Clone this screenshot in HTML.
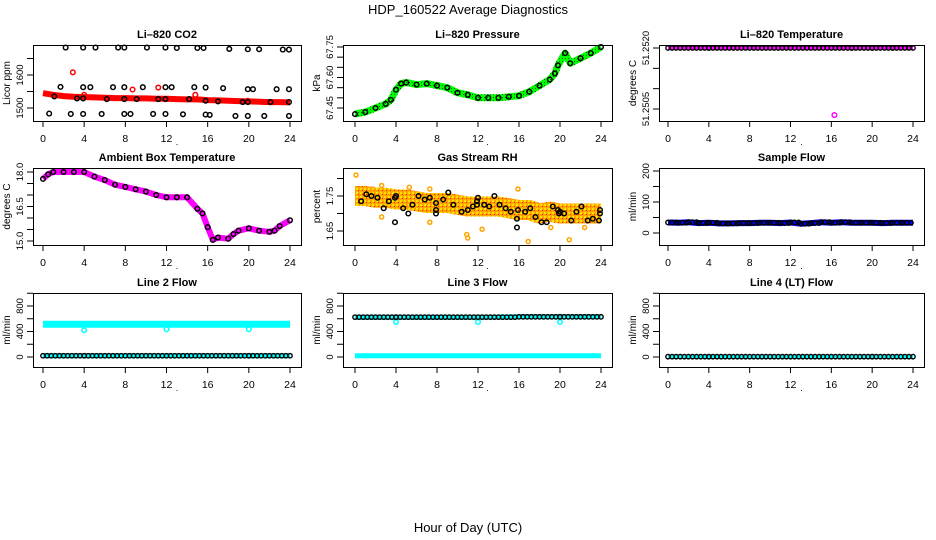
<!DOCTYPE html>
<html><head><meta charset="utf-8"><title>HDP_160522 Average Diagnostics</title>
<style>
html,body{margin:0;padding:0;background:#fff;}
svg{display:block;font-family:"Liberation Sans",sans-serif;}
</style></head>
<body>
<svg id="fig" width="936" height="540" viewBox="0 0 936 540" xmlns="http://www.w3.org/2000/svg">
<defs>
<pattern id="rhpat" width="4" height="4" patternUnits="userSpaceOnUse">
<rect width="4" height="4" fill="#ffa500"/><rect x="0" y="0" width="2" height="2" fill="#ffe000"/><rect x="2" y="2" width="1" height="1" fill="#ff2000"/>
</pattern>
<pattern id="grpat" width="3" height="3" patternUnits="userSpaceOnUse">
<rect width="3" height="3" fill="#00ff00"/><rect x="1" y="1" width="1" height="1" fill="#006000"/>
</pattern>
</defs>
<text x="468" y="14" font-size="13" text-anchor="middle">HDP_160522  Average Diagnostics</text>
<text x="468" y="532" font-size="13" text-anchor="middle">Hour of Day (UTC)</text>
</svg>
<script>
// ---- shared x categories ----
const xTicks = [0, 4, 8, 12, 16, 20, 24];

// ---- Li-820 CO2 ----
const co2BandHours = [0,1,2,3,4,5,6,7,8,9,10,11,12,13,14,15,16,17,18,19,20,21,22,23,24];
const co2Band = [1545,1540,1536,1534,1533,1532,1531,1530,1530,1529,1529,1528,1528,1527,1526,1526,1524,1523,1522,1521,1520,1519,1518,1518,1517];
const co2CircHours = [2.2,3.9,5.1,7.3,7.9,10.1,11.9,13.0,15.0,15.6,18.1,19.9,21.0,23.3,23.9, 1.7,3.9,4.6,6.8,7.9,9.7,11.9,12.5,14.7,15.8,17.5,19.9,20.4,22.7,23.9, 0.6,2.7,3.9,5.7,7.9,8.5,10.7,11.9,13.6,15.8,16.2,18.7,19.9,21.5,23.9, 1.1,3.3,3.9,6.2,7.9,9.1,11.2,11.9,14.2,15.8,17.0,19.4,19.9,22.1,23.9];
const co2CircVals = [1683,1683,1683,1683,1683,1683,1683,1682,1682,1682,1679,1678,1678,1677,1677, 1564,1563,1563,1563,1563,1563,1563,1563,1563,1562,1560,1557,1557,1557,1557, 1483,1482,1482,1482,1482,1482,1482,1482,1481,1480,1479,1476,1476,1476,1476, 1535,1529,1529,1527,1527,1527,1527,1527,1527,1522,1520,1518,1518,1518,1518];
const co2RedHours = [2.9,4.0,8.7,11.2,14.8,19.9];
const co2RedVals = [1608,1540,1556,1562,1540,1522];

// ---- Li-820 Pressure ----
const presHours = [0,1,2,3,3.5,4,4.5,5,6,7,8,9,10,11,12,13,14,15,16,17,18,19,19.5,19.8,20.5,21,22,23,24];
const presVals = [67.42,67.43,67.45,67.47,67.49,67.54,67.57,67.575,67.565,67.57,67.56,67.55,67.525,67.515,67.50,67.50,67.50,67.505,67.51,67.53,67.56,67.59,67.62,67.66,67.72,67.67,67.695,67.72,67.75];

// ---- Li-820 Temperature ----
const tempHours = [0,2,4,6,8,10,12,14,16,18,20,22,24];
const tempVals = [51.2520,51.2520,51.2520,51.2520,51.2520,51.2520,51.2520,51.2520,51.2520,51.2520,51.2520,51.2520,51.2520];
const tempOutHours = [16.3];
const tempOutVals = [51.25035];

// ---- Ambient Box Temperature ----
const ambHours = [0,0.5,1,2,3,4,5,6,7,8,9,10,11,12,13,14,15,15.5,16,16.5,17,18,18.5,19,20,21,22,22.5,23,24];
const ambVals = [17.7,17.9,18.0,18.0,18.0,18.0,17.8,17.65,17.45,17.35,17.25,17.15,17.0,16.9,16.9,16.9,16.4,16.2,15.6,15.05,15.15,15.1,15.3,15.45,15.55,15.45,15.4,15.45,15.65,15.9];

// ---- Gas Stream RH ----
const rhHours = [0,1,2,3,4,5,6,7,8,9,10,11,12,13,14,15,16,17,18,19,20,21,22,23,24];
const rhBand = [1.75,1.75,1.745,1.745,1.74,1.74,1.735,1.73,1.73,1.73,1.725,1.72,1.72,1.72,1.72,1.715,1.71,1.71,1.70,1.705,1.70,1.70,1.70,1.70,1.70];
const rhCircHours = [0.6,1.1,1.6,2.2,2.8,3.3,3.9,4.0,3.9,4.7,5.2,5.6,6.2,6.8,7.3,7.9,7.9,7.9,8.6,9.1,9.6,10.4,11.0,11.5,11.9,11.9,12.0,12.6,13.1,13.6,14.1,14.7,15.2,15.8,15.8,15.9,16.6,17.1,17.6,18.2,18.7,19.3,19.8,19.9,20.0,20.4,21.1,21.6,22.1,22.7,23.2,23.8,23.9,23.9];
const rhCircVals = [1.735,1.755,1.75,1.745,1.715,1.735,1.745,1.75,1.675,1.715,1.70,1.725,1.75,1.74,1.745,1.73,1.71,1.70,1.74,1.76,1.725,1.705,1.71,1.72,1.735,1.725,1.745,1.725,1.72,1.75,1.725,1.715,1.705,1.685,1.66,1.71,1.705,1.715,1.69,1.675,1.675,1.72,1.71,1.70,1.705,1.70,1.68,1.705,1.72,1.68,1.685,1.68,1.70,1.71];
const rhOutHours = [0.1,1.7,2.6,5.3,7.3,2.6,7.3,10.9,11.0,12.4,15.9,16.9,20.9,22.4,19.1];
const rhOutVals = [1.81,1.77,1.78,1.775,1.77,1.69,1.675,1.64,1.63,1.655,1.77,1.62,1.625,1.66,1.66];

// ---- Sample Flow ----
const sfHours = [0,1,2,3,4,5,6,7,8,9,10,11,12,13,14,15,16,17,18,19,20,21,22,23,24];
const sfVals = [34,33,35,32,33,31,31,32,32,33,33,32,34,30,32,35,33,35,33,33,33,32,33,33,33];

// ---- Line 2 Flow ----
const l2Hours = [0,4,8,12,16,20,24];
const l2High = [515,515,515,515,515,515,515];
const l2Low = [20,20,20,20,20,20,20];
const l2OutHours = [4,12,20];
const l2OutVals = [420,435,435];

// ---- Line 3 Flow ----
const l3Hours = [0,4,8,12,16,20,24];
const l3High = [625,625,625,625,630,630,630];
const l3Low = [20,20,20,20,20,20,20];
const l3OutHours = [4,12,20];
const l3OutVals = [550,550,550];

// ---- Line 4 (LT) Flow ----
const l4Hours = [0,4,8,12,16,20,24];
const l4Vals = [5,5,5,5,5,5,5];

const NS = 'http://www.w3.org/2000/svg';
const svg = document.getElementById('fig');
const cols = [{bx0:33,bx1:301,h0:43,h24:290},{bx0:343,bx1:612,h0:355,h24:601},{bx0:659,bx1:924,h0:668,h24:913}];
const rows = [{by0:45,by1:121},{by0:168,by1:245},{by0:293,by1:367}];

function mk(tag, attrs, parent){
  const e = document.createElementNS(NS, tag);
  for (const k in attrs) e.setAttribute(k, attrs[k]);
  (parent || svg).appendChild(e);
  return e;
}
function makePanel(ci, ri, title, ylab, v1, p1, v2, p2, yTicks, yLabels, name){
  const c = cols[ci], r = rows[ri];
  const g = mk('g', {});
  
  
  const xs = h => c.h0 + (h / 24) * (c.h24 - c.h0);
  const ys = v => p1 + (v - v1) * (p2 - p1) / (v2 - v1);
  const t = mk('text', {x:(c.bx0 + c.bx1)/2, y:r.by0 - 7, 'font-size':11, 'font-weight':'bold', 'text-anchor':'middle'}, g);
  t.textContent = title;
  
  
  const yl = mk('text', {transform:`translate(${c.bx0 - 23},${(r.by0 + r.by1)/2}) rotate(-90)`, 'font-size':10, 'text-anchor':'middle'}, g);
  yl.textContent = ylab;
  
  
  const ax = mk('g', {stroke:'#000', 'stroke-width':1}, g);
  
  
  mk('line', {x1:xs(0), x2:xs(24), y1:r.by1 + 0.5, y2:r.by1 + 0.5}, ax);
  xTicks.forEach(h => {
    mk('line', {x1:xs(h), x2:xs(h), y1:r.by1, y2:r.by1 + 6}, ax);
    const lt = mk('text', {x:xs(h), y:r.by1 + 21, 'font-size':10.5, 'text-anchor':'middle', stroke:'none'}, ax);
    lt.textContent = h;
    
    
  });
  const dot = mk('text', {x:(c.bx0 + c.bx1)/2 + 10, y:r.by1 + 24, 'font-size':9, 'text-anchor':'middle', stroke:'none'}, ax);
  dot.textContent = '.';
  const ay = mk('g', {stroke:'#000', 'stroke-width':1}, g);
  
  
  yTicks.forEach((v, i) => {
    const y = ys(v);
    mk('line', {x1:c.bx0 - 6, x2:c.bx0, y1:y, y2:y}, ay);
    if (yLabels[i] !== '') {
      const lt = mk('text', {transform:`translate(${c.bx0 - 10},${y}) rotate(-90)`, 'font-size':9.5, 'text-anchor':'middle', stroke:'none'}, ay);
      lt.textContent = yLabels[i];
      
      
    }
  });
  const plot = mk('g', {}, g);
  
  
  const box = mk('rect', {x:c.bx0 + 0.5, y:r.by0 + 0.5, width:c.bx1 - c.bx0, height:r.by1 - r.by0, fill:'none', stroke:'#000', 'stroke-width':1}, g);
  
  
  return {xs, ys, plot};
}
function band(P, hours, vals, color, width, name){
  const pts = hours.map((h, i) => P.xs(h).toFixed(1) + ',' + P.ys(vals[i]).toFixed(1)).join(' ');
  const pl = mk('polyline', {points:pts, fill:'none', stroke:color, 'stroke-width':width, 'stroke-linejoin':'round', 'stroke-linecap':'butt'}, P.plot);
  
  
}
function circles(P, hours, vals, color, name, r){
  hours.forEach((h, i) => {
    const cc = mk('circle', {cx:P.xs(h), cy:P.ys(vals[i]), r:r || 2.3, fill:'none', stroke:color, 'stroke-width':1.5}, P.plot);
    
    
  });
}
// dense circle rows along flat series (positions from hours array, values from data)
function circleRow(P, hours, vals, color, name, step){
  for (let i = 0; i < hours.length - 1; i++) {
    for (let h = hours[i]; h < hours[i+1]; h += step) {
      const cc = mk('circle', {cx:P.xs(h), cy:P.ys(vals[i]), r:2.2, fill:'none', stroke:color, 'stroke-width':1.4}, P.plot);
      
      
    }
  }
}

// CO2
let P = makePanel(0, 0, 'Li\u2013820 CO2', 'Licor ppm', 1600, 75, 1500, 108, [1500,1550,1600,1650], ['1500','','1600',''], 'co2');
band(P, co2BandHours, co2Band, '#ff0000', 6, 'co2-band');
circles(P, co2RedHours, co2RedVals, '#ff0000', 'co2-red-point');
circles(P, co2CircHours, co2CircVals, '#000', 'co2-avg-point');

// Pressure
P = makePanel(1, 0, 'Li\u2013820 Pressure', 'kPa', 67.45, 108, 67.75, 47, [67.45,67.50,67.55,67.60,67.65,67.70,67.75], ['67.45','','','67.60','','','67.75'], 'pressure');
band(P, presHours, presVals, 'url(#grpat)', 7, 'pressure-band');
circles(P, presHours, presVals, '#000', 'pressure-avg-point');

// Temperature
P = makePanel(2, 0, 'Li\u2013820 Temperature', 'degrees C', 51.2520, 48, 51.2505, 109, [51.2505,51.2510,51.2515,51.2520], ['51.2505','','','51.2520'], 'li820-temp');
band(P, tempHours, tempVals, '#ff00ff', 4, 'li820-temp-band');
circleRow(P, tempHours, tempVals, '#000', 'li820-temp-avg-point', 0.4);
circles(P, tempOutHours, tempOutVals, '#ff00ff', 'li820-temp-outlier');

// Ambient
P = makePanel(0, 1, 'Ambient Box Temperature', 'degrees C', 18.0, 172, 15.0, 241, [15.0,15.5,16.0,16.5,17.0,17.5,18.0], ['15.0','','','16.5','','','18.0'], 'ambient-temp');
band(P, ambHours, ambVals, '#ff00ff', 6, 'ambient-temp-band');
circles(P, ambHours, ambVals, '#000', 'ambient-temp-avg-point');

// RH
P = makePanel(1, 1, 'Gas Stream RH', 'percent', 1.75, 196, 1.65, 231, [1.65,1.70,1.75,1.80], ['1.65','','1.75',''], 'rh');
band(P, rhHours, rhBand, 'url(#rhpat)', 20, 'rh-band');
circles(P, rhOutHours, rhOutVals, '#ffa500', 'rh-outlier', 2);
circles(P, rhCircHours, rhCircVals, '#000', 'rh-avg-point');

// Sample flow
P = makePanel(2, 1, 'Sample Flow', 'ml/min', 0, 233, 200, 171, [0,50,100,150,200], ['0','','100','','200'], 'sample-flow');
band(P, sfHours, sfVals, '#0000ff', 6, 'sample-flow-band');
circleRow(P, sfHours, sfVals, '#000', 'sample-flow-avg-point', 0.4);

// Line 2
P = makePanel(0, 2, 'Line 2 Flow', 'ml/min', 0, 357, 800, 306, [0,200,400,600,800,1000], ['0','','400','','800',''], 'line2-flow');
band(P, l2Hours, l2High, '#00ffff', 7, 'line2-high-band');
band(P, l2Hours, l2Low, '#00ffff', 5, 'line2-low-band');
circles(P, l2OutHours, l2OutVals, '#00ffff', 'line2-outlier');
circleRow(P, l2Hours, l2Low, '#000', 'line2-avg-point', 0.4);

// Line 3
P = makePanel(1, 2, 'Line 3 Flow', 'ml/min', 0, 357, 800, 306, [0,200,400,600,800,1000], ['0','','400','','800',''], 'line3-flow');
band(P, l3Hours, l3Low, '#00ffff', 5, 'line3-low-band');
band(P, l3Hours, l3High, '#00ffff', 5, 'line3-high-band');
circles(P, l3OutHours, l3OutVals, '#00ffff', 'line3-outlier');
circleRow(P, l3Hours, l3High, '#000', 'line3-avg-point', 0.4);

// Line 4
P = makePanel(2, 2, 'Line 4 (LT) Flow', 'ml/min', 0, 357, 800, 306, [0,200,400,600,800,1000], ['0','','400','','800',''], 'line4-flow');
band(P, l4Hours, l4Vals, '#00ffff', 4, 'line4-band');
circleRow(P, l4Hours, l4Vals, '#000', 'line4-avg-point', 0.4);
</script>
</body></html>
